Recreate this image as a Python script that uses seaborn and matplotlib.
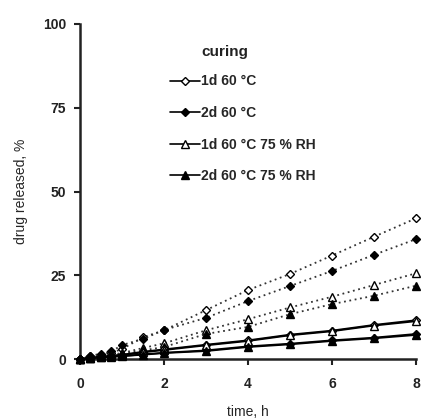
import matplotlib
matplotlib.use("Agg")
import matplotlib.pyplot as plt
import seaborn as sns
import pandas as pd
from matplotlib.lines import Line2D

sns.set_theme(style="ticks")
plt.rcParams['font.family'] = ['Liberation Sans', 'DejaVu Sans']

time = [0, 0.25, 0.5, 0.75, 1, 1.5, 2, 3, 4, 5, 6, 7, 8]
labels = ["1d 60 °C", "2d 60 °C", "1d 60 °C 75 % RH", "2d 60 °C 75 % RH"]
legend_title = "curing"

# dotted series (upper group)
dot_1d60 = [0, 0.8, 1.3, 1.9, 3.0, 6.5, 8.6, 14.6, 20.6, 25.4, 30.9, 36.5, 42.0]
dot_2d60 = [0, 1.0, 1.6, 2.3, 4.2, 6.0, 8.7, 12.3, 17.3, 21.8, 26.3, 31.1, 35.8]
dot_1d60rh = [0, 0.5, 0.9, 1.3, 1.8, 3.3, 4.7, 8.6, 11.9, 15.4, 18.6, 22.1, 25.6]
dot_2d60rh = [0, 0.4, 0.8, 1.1, 1.5, 2.6, 3.6, 7.5, 9.6, 13.4, 16.4, 18.9, 21.9]

# solid series (lower group)
sol_1d60 = [0, 0.4, 0.7, 1.0, 1.3, 2.2, 2.9, 4.3, 5.6, 7.3, 8.5, 10.2, 11.6]
sol_2d60 = [0, 0.3, 0.5, 0.7, 0.9, 1.4, 1.9, 2.6, 3.8, 4.6, 5.6, 6.4, 7.5]
sol_1d60rh = [0, 0.4, 0.6, 0.9, 1.2, 2.0, 2.7, 4.1, 5.4, 7.1, 8.3, 10.0, 11.3]
sol_2d60rh = [0, 0.3, 0.5, 0.7, 0.9, 1.3, 1.8, 2.4, 3.6, 4.4, 5.4, 6.2, 7.2]

dotted = [dot_1d60, dot_2d60, dot_1d60rh, dot_2d60rh]
solid = [sol_1d60, sol_2d60, sol_1d60rh, sol_2d60rh]
markers = ["D", "D", "^", "^"]
msizes = [4.5, 4.5, 6, 6]
faces = ["white", "black", "white", "black"]

fig = plt.figure(figsize=(4.21, 4.20), dpi=100)
ax = fig.add_axes([0.19, 0.145, 0.798, 0.798])

for i in range(4):
    df = pd.DataFrame({"time": time, "released": dotted[i]})
    sns.lineplot(data=df, x="time", y="released", ax=ax, color="#333333",
                 linestyle=(0, (1, 2)), linewidth=1.3, marker=markers[i],
                 markersize=msizes[i], markerfacecolor=faces[i],
                 markeredgecolor="black", markeredgewidth=1.0,
                 clip_on=False, zorder=3)
for i in range(4):
    df = pd.DataFrame({"time": time, "released": solid[i]})
    sns.lineplot(data=df, x="time", y="released", ax=ax, color="black",
                 linestyle="-", linewidth=1.3, marker=markers[i],
                 markersize=msizes[i], markerfacecolor=faces[i],
                 markeredgecolor="black", markeredgewidth=1.0,
                 clip_on=False, zorder=3)

ax.set_xlim(0, 8)
ax.set_ylim(0, 100)
ax.set_xticks([0, 2, 4, 6, 8])
ax.set_yticks([0, 25, 50, 75, 100])
sns.despine(ax=ax)
for s in ["left", "bottom"]:
    ax.spines[s].set_linewidth(1.8)
    ax.spines[s].set_color("#222222")
ax.tick_params(axis="both", direction="out", length=4, width=1.5,
               labelsize=10, colors="#222222", pad=6)
ax.tick_params(axis="x", pad=9)
for t in ax.get_xticklabels() + ax.get_yticklabels():
    t.set_fontweight("bold")
ax.set_xlabel("time, h", fontsize=10, labelpad=10)
ax.set_ylabel("drug released, %", fontsize=10, labelpad=11)

handles = [Line2D([0], [0], color="black", linewidth=1.2, marker=markers[i],
                  markersize=msizes[i] - 0.5, markerfacecolor=faces[i],
                  markeredgecolor="black") for i in range(4)]
leg = ax.legend(handles, labels, frameon=False,
                loc="upper left", bbox_to_anchor=(0.25, 0.866),
                prop={"weight": "bold", "size": 10}, labelspacing=1.27,
                handlelength=2.2, handletextpad=0.1, borderaxespad=0)
ax.text(0.36, 0.915, legend_title, transform=ax.transAxes, fontsize=11,
        fontweight="bold", ha="left", va="center", color="#222222")

fig.savefig("out.png", dpi=100)
